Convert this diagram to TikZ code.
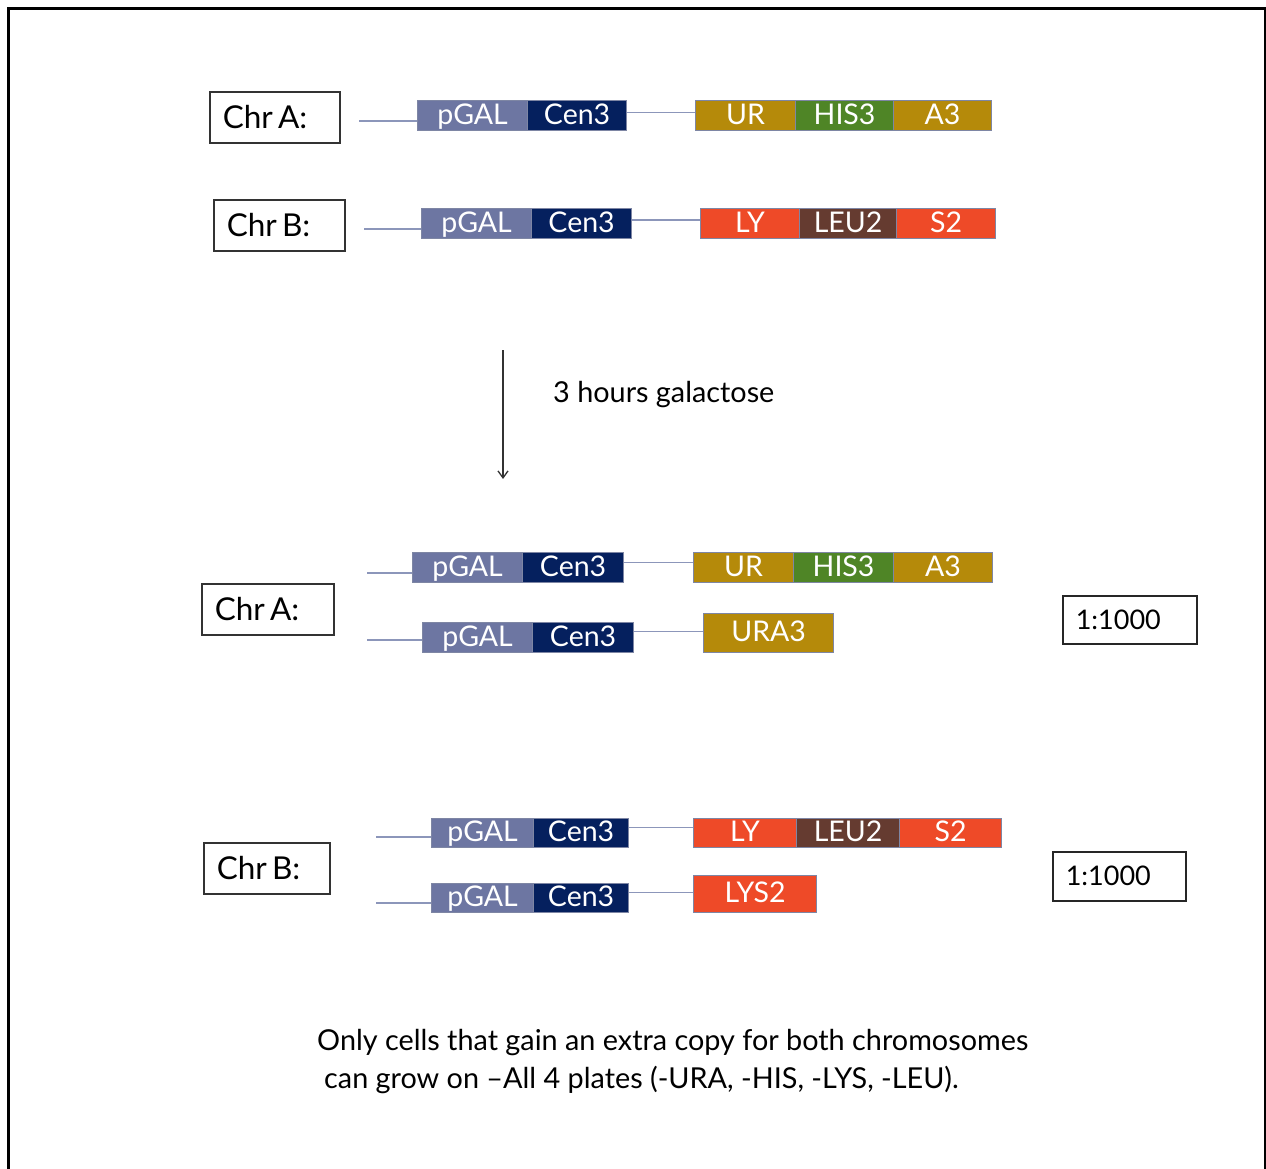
\documentclass[tikz,border=0pt]{standalone}
\usepackage{fontspec}
\setmainfont{Lato}
\usetikzlibrary{arrows.meta}

\definecolor{galblue}{HTML}{6D76A2}
\definecolor{cennavy}{HTML}{05205E}
\definecolor{uragold}{HTML}{B58A0A}
\definecolor{hisgreen}{HTML}{4F8526}
\definecolor{lysred}{HTML}{EE4A28}
\definecolor{leubrown}{HTML}{653B30}
\definecolor{wireblue}{HTML}{8C96BA}
\definecolor{edgegray}{HTML}{7E86A4}

\tikzset{
  blk/.style={draw=edgegray, line width=1.2pt, anchor=north west, inner sep=0pt,
    text=white, font=\fontsize{28.5}{28.5}\selectfont, minimum height=30pt,
    text height=20.5pt, text depth=3pt},
  chrlabel/.style={draw=black!80, line width=1.6pt, anchor=north west,
    inner xsep=13pt, inner ysep=0pt, align=left,
    font=\fontsize{31.5}{31.5}\selectfont, text=black},
  ratio/.style={draw=black!85, line width=1.6pt, anchor=north west,
    inner xsep=13pt, inner ysep=0pt, align=left,
    font=\fontsize{27}{27}\selectfont, text=black},
  wire/.style={draw=wireblue, line width=1.3pt},
  bodytext/.style={font=\fontsize{28.8}{32}\selectfont, text=black, inner sep=0pt}
}

\begin{document}
\begin{tikzpicture}[x=1pt, y=-1pt]
  \useasboundingbox (0,0) rectangle (1266,1169);
  % outer frame (open at the bottom)
  \draw[line width=3pt, black] (8,1175) -- (8,9) -- (1265,9) -- (1265,1175);

  % ---------- before induction ----------
  \node[chrlabel, text width=104pt, minimum height=51pt] (cA) at (209,91) {Chr\,A:};
  \node[blk, fill=galblue, minimum width=110pt] (a1p) at (417,100) {pGAL};
  \node[blk, fill=cennavy, minimum width=99pt] (a1c) at (527,100) {Cen3};
  \node[blk, fill=uragold, minimum width=100pt] (a1u) at (695,100) {UR};
  \node[blk, fill=hisgreen, minimum width=98pt] (a1h) at (795,100) {HIS3};
  \node[blk, fill=uragold, minimum width=98pt] (a1a) at (893,100) {A3};
  \coordinate (a1s) at (359,121);
  \draw[wire] (a1s) -- (a1s -| a1p.west);
  \draw[wire] ([yshift=3pt]a1c.east) -- ([yshift=3pt]a1c.east -| a1u.west);

  \node[chrlabel, text width=105pt, minimum height=51pt] (cB) at (213,199) {Chr\,B:};
  \node[blk, fill=galblue, minimum width=110pt] (b1p) at (421,208) {pGAL};
  \node[blk, fill=cennavy, minimum width=100pt] (b1c) at (531,208) {Cen3};
  \node[blk, fill=lysred, minimum width=99pt] (b1l) at (700,208) {LY};
  \node[blk, fill=leubrown, minimum width=97pt] (b1e) at (799,208) {LEU2};
  \node[blk, fill=lysred, minimum width=99pt] (b1s) at (896,208) {S2};
  \coordinate (b1x) at (364,229);
  \draw[wire] (b1x) -- (b1x -| b1p.west);
  \draw[wire] ([yshift=3.5pt]b1c.east) -- ([yshift=3.5pt]b1c.east -| b1l.west);

  % ---------- induction ----------
  \coordinate (arrtop) at (503,350);
  \coordinate (arrbot) at (503,479);
  \draw[line width=1.3pt, black!80, -{Straight Barb[length=7pt,width=10pt]}] (arrtop) -- (arrbot);
  \node[bodytext, anchor=west] (gal) at (553,395) {3 hours galactose};

  % ---------- after induction: chromosome A ----------
  \node[chrlabel, text width=106pt, minimum height=51pt] (dA) at (201,583) {Chr\,A:};
  \node[blk, fill=galblue, minimum width=110pt] (a2p) at (412,552) {pGAL};
  \node[blk, fill=cennavy, minimum width=101pt] (a2c) at (522,552) {Cen3};
  \node[blk, fill=uragold, minimum width=100pt] (a2u) at (693,552) {UR};
  \node[blk, fill=hisgreen, minimum width=100pt] (a2h) at (793,552) {HIS3};
  \node[blk, fill=uragold, minimum width=99pt] (a2a) at (893,552) {A3};
  \coordinate (a2s) at (367,573);
  \draw[wire] (a2s) -- (a2s -| a2p.west);
  \draw[wire] ([yshift=5pt]a2c.east) -- ([yshift=5pt]a2c.east -| a2u.west);

  \node[blk, fill=galblue, minimum width=110pt] (a3p) at (422,622) {pGAL};
  \node[blk, fill=cennavy, minimum width=101pt] (a3c) at (532,622) {Cen3};
  \node[blk, fill=uragold, minimum width=130pt, minimum height=39pt] (a3u) at (703,613) {URA3};
  \coordinate (a3s) at (367,640);
  \draw[wire] (a3s) -- (a3s -| a3p.west);
  \draw[wire] ([yshift=6pt]a3c.east) -- ([yshift=6pt]a3c.east -| a3u.west);

  \node[ratio, text width=108pt, minimum height=48pt] (rA) at (1062,595) {1:1000};

  % ---------- after induction: chromosome B ----------
  \node[chrlabel, text width=100pt, minimum height=51pt] (dB) at (203,842) {Chr\,B:};
  \node[blk, fill=galblue, minimum width=102pt, minimum height=29pt] (b2p) at (431,818) {pGAL};
  \node[blk, fill=cennavy, minimum width=95pt, minimum height=29pt] (b2c) at (533,818) {Cen3};
  \node[blk, fill=lysred, minimum width=103pt, minimum height=29pt] (b2l) at (693,818) {LY};
  \node[blk, fill=leubrown, minimum width=103pt, minimum height=29pt] (b2e) at (796,818) {LEU2};
  \node[blk, fill=lysred, minimum width=102pt, minimum height=29pt] (b2s) at (899,818) {S2};
  \coordinate (b2x) at (376,837);
  \draw[wire] (b2x) -- (b2x -| b2p.west);
  \draw[wire] ([yshift=5.5pt]b2c.east) -- ([yshift=5.5pt]b2c.east -| b2l.west);

  \node[blk, fill=galblue, minimum width=102pt, minimum height=29pt] (b3p) at (431,883) {pGAL};
  \node[blk, fill=cennavy, minimum width=95pt, minimum height=29pt] (b3c) at (533,883) {Cen3};
  \node[blk, fill=lysred, minimum width=123pt, minimum height=37pt] (b3l) at (693,875) {LYS2};
  \coordinate (b3x) at (376,903);
  \draw[wire] (b3x) -- (b3x -| b3p.west);
  \draw[wire] ([yshift=5.5pt]b3c.east) -- ([yshift=5.5pt]b3c.east -| b3l.west);

  \node[ratio, text width=107pt, minimum height=49pt] (rB) at (1052,851) {1:1000};

  % ---------- conclusion ----------
  \node[bodytext, anchor=west] (note1) at (317,1043) {Only cells that gain an extra copy for both chromosomes};
  \node[bodytext, anchor=west] (note2) at (324,1080) {can grow on –All 4 plates (-URA, -HIS, -LYS, -LEU).};
\end{tikzpicture}
\end{document}
